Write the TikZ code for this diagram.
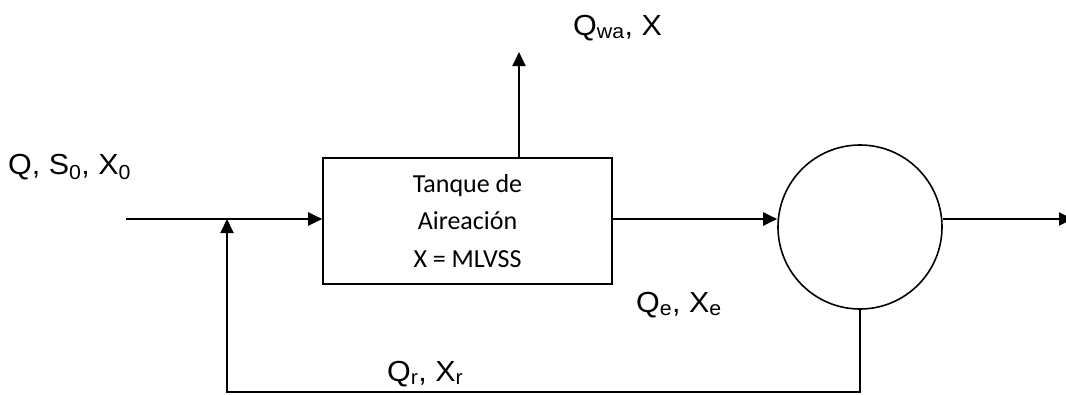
\documentclass[tikz,border=0pt]{standalone}
\usepackage{fontspec}
\setmainfont[FakeStretch=1.05]{Liberation Sans}
\newfontfamily\boxfont{Carlito}
\usetikzlibrary{arrows.meta}
\tikzset{
  x=1pt, y=1pt,
  flow/.style={line width=2pt, -{Triangle[length=14pt,width=13pt]}},
  tankbox/.style={draw, line width=1.6pt, minimum width=289pt, minimum height=126pt, inner sep=0pt,
    align=center, font=\boxfont\fontsize{26}{37.5}\selectfont},
  sepcircle/.style={draw, circle, line width=1.6pt, minimum size=164pt, inner sep=0pt},
  lbl/.style={inner sep=0pt, anchor=base west, font=\fontsize{29}{32}\selectfont}
}
\begin{document}
\begin{tikzpicture}
\useasboundingbox (0,0) rectangle (1066,-394);
\node[tankbox] (tank) at (467.5,-221) {Tanque de\\Aireación\\X = MLVSS};
\node[sepcircle] (sep) at (860,-227) {};
\coordinate (in) at (126,-219);
\coordinate (j) at (227,-219);
\coordinate (bl) at (227,-392);
\coordinate (top) at (519,-52);
\coordinate (out) at (1073,-219);
\draw[flow] (in) -- (in -| tank.west);
\draw[flow] (tank.east |- in) -- (in -| sep.west);
\draw[flow] (sep.east |- out) -- (out);
\draw[flow] (top |- tank.north) -- (top);
\draw[flow] (sep.south) |- (bl) -- (j);
\node[lbl] (lin) at (8,-174) {Q, S\textsubscript{0}, X\textsubscript{0}};
\node[lbl] (lwa) at (573,-35) {Q\textsubscript{wa}, X};
\node[lbl] (le) at (636,-312) {Q\textsubscript{e}, X\textsubscript{e}};
\node[lbl] (lr) at (387,-381) {Q\textsubscript{r}, X\textsubscript{r}};
\end{tikzpicture}
\end{document}
